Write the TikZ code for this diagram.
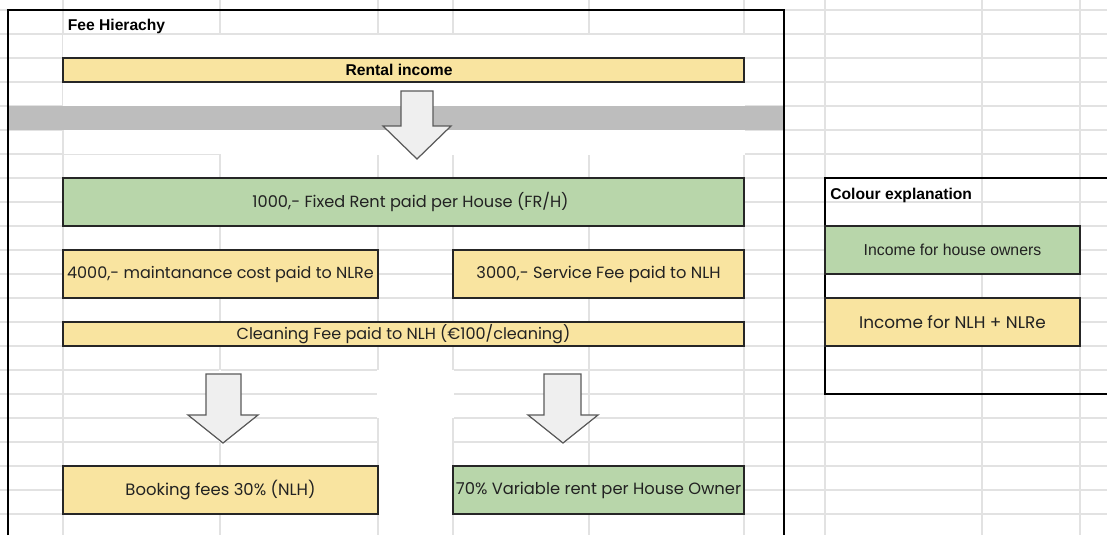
\documentclass[tikz,border=0pt]{standalone}
\usepackage{fontspec}
\setmainfont{Liberation Sans}
\newfontfamily\mfont{Poppins}
\definecolor{ylw}{HTML}{F9E4A0}
\definecolor{grn}{HTML}{B8D6AA}
\definecolor{gridc}{HTML}{E2E2E2}
\definecolor{band}{HTML}{BDBDBD}
\definecolor{arrf}{HTML}{EFEFEF}
\definecolor{arrd}{HTML}{5A5A5A}
\definecolor{txt}{HTML}{222222}
\begin{document}
\begin{tikzpicture}[x=0.02cm,y=-0.02cm,
  gridline/.style={draw=gridc,line width=0.6pt},
  mask/.style={fill=white},
  box/.style 2 args={draw=black!85,line width=0.8pt,inner sep=0pt,outer sep=0pt,
              minimum width={#1*0.02cm},minimum height={#2*0.02cm},text=txt},
  ybox/.style 2 args={box={#1}{#2},fill=ylw},
  gbox/.style 2 args={box={#1}{#2},fill=grn},
  mf/.style={font=\mfont\fontsize{#1}{11}\selectfont},
  boldtxt/.style={font=\bfseries\fontsize{8.9}{10}\selectfont,text=black},
  frameline/.style={draw=black,line width=0.9pt},
  blockarrow/.style={draw=arrd,fill=arrf,line width=0.7pt,line join=miter}]
\useasboundingbox (0,0) rectangle (1107,535);
\fill[white] (0,0) rectangle (1107,535);
% spreadsheet grid
\foreach \x in {63,220,378,453,589,744,825,982,1080}
  \draw[gridline] (\x,0) -- (\x,535);
\foreach \y in {10,34,...,514}
  \draw[gridline] (0,\y) -- (1107,\y);
% merged cells (no grid)
\fill[mask] (62.5,34.6) rectangle (744.6,106);
\fill[mask] (63.6,130) rectangle (744.6,153.6);
\fill[mask] (220.6,153.4) rectangle (744.6,154.6);
\fill[mask] (378.6,298.6) rectangle (452.4,535);
\draw[white,line width=1pt] (220,370) -- (220,442);
\draw[white,line width=1pt] (378,370) -- (378,418);
\draw[white,line width=1pt] (453,370) -- (453,418);
% grey row
\fill[band] (8,106) rectangle (784,130);
% frames
\draw[frameline] (8,535) -- (8,10) -- (784,10) -- (784,535);
\draw[frameline] (1107,178) -- (825,178) -- (825,394) -- (1107,394);
% titles
\node[boldtxt,anchor=base west,inner sep=0pt] (title) at (67.5,30) {Fee Hierachy};
\node[boldtxt,anchor=base west,inner sep=0pt] (coltitle) at (830,199) {Colour explanation};
% boxes
\node[ybox={681}{24},boldtxt] (rent) at (403.5,70) {\kern-5pt Rental income};
\node[gbox={681}{48},mf=9.2] (frh) at (403.5,202) {\kern8pt 1000,- Fixed Rent paid per House (FR/H)};
\node[ybox={315}{48},mf=9.1] (maint) at (220.5,274) {4000,- maintanance cost paid to NLRe};
\node[ybox={291}{48},mf=9.25] (serv) at (598.5,274) {3000,- Service Fee paid to NLH};
\node[ybox={681}{24},mf=9.12] (clean) at (403.5,334) {Cleaning Fee paid to NLH (€100/cleaning)};
\node[ybox={315}{48},mf=9.35] (book) at (220.5,490) {Booking fees 30\% (NLH)};
\node[gbox={291}{48},mf=9.29] (var) at (598.5,490) {70\% Variable rent per House Owner};
\node[gbox={255}{48},font=\fontsize{9}{11}\selectfont] (own) at (952.5,250) {Income for house owners};
\node[ybox={255}{48},mf=9.6] (nlh) at (952.5,322) {Income for NLH + NLRe};
% block arrows
\draw[blockarrow] (401,91) -- (433,91) -- (433,126) -- (451,126) -- (417,159)
  -- (383,126) -- (401,126) -- cycle;
\draw[blockarrow] (206,374) -- (241,374) -- (241,415) -- (258,415) -- (223,443)
  -- (188,415) -- (206,415) -- cycle;
\draw[blockarrow] (544,374) -- (581,374) -- (581,415) -- (598,415) -- (563,443)
  -- (528,415) -- (544,415) -- cycle;
\end{tikzpicture}
\end{document}
